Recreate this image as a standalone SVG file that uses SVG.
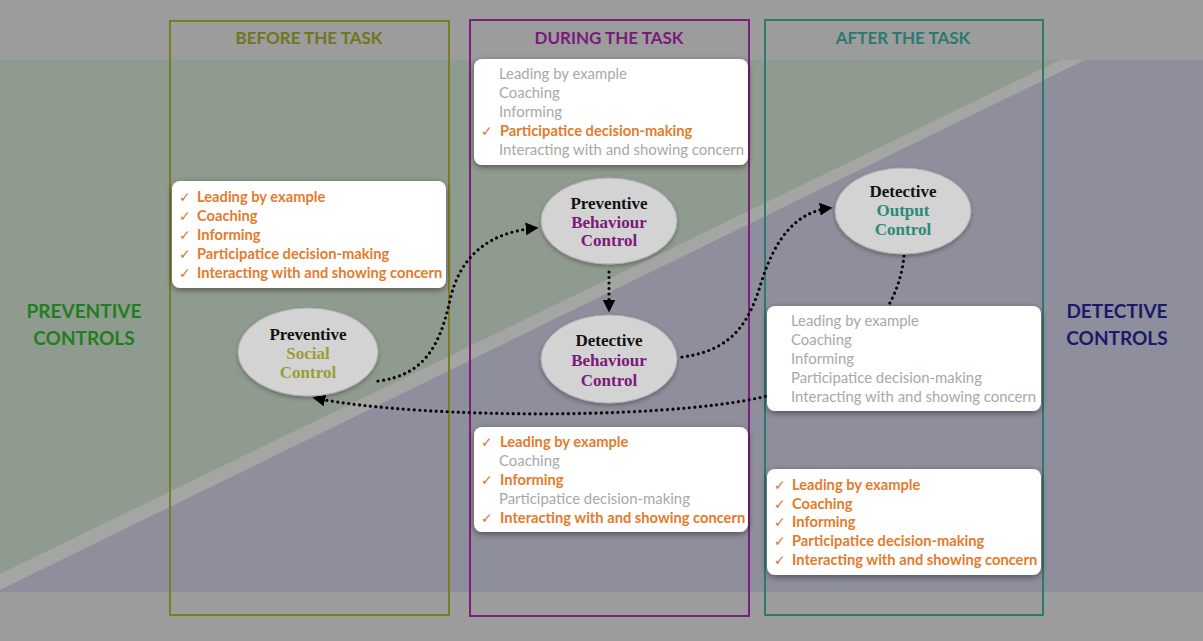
<svg xmlns="http://www.w3.org/2000/svg" width="1203" height="641" viewBox="0 0 1203 641">
<defs>
<style>
.hdr{font-family:Lato,"Open Sans",sans-serif;font-weight:bold;font-size:17px;text-anchor:middle}
.side{font-family:Lato,"Open Sans",sans-serif;font-weight:bold;font-size:19px;text-anchor:middle}
.li{font-family:Lato,"Open Sans",sans-serif;font-size:14.9px}
.on{fill:#e47b2b;font-weight:bold;font-size:14.7px}
.off{fill:#a8a8a8}
.ck{font-family:"DejaVu Sans",sans-serif;font-size:14px;fill:#d9772d}
.box{fill:#ffffff;filter:url(#sh)}
.ell{fill:#d3d3d3;stroke:#b0b0b0;stroke-width:1;filter:url(#sh2)}
.et{font-family:"Liberation Serif",serif;font-weight:bold;font-size:17px;text-anchor:middle}
.con{fill:none;stroke:#000;stroke-width:3.2;stroke-linecap:round;stroke-dasharray:0 5.5}
</style>
<filter id="sh" x="-10%" y="-20%" width="120%" height="150%">
<feDropShadow dx="0" dy="2" stdDeviation="3" flood-color="#000" flood-opacity="0.45"/>
</filter>
<filter id="sh2" x="-10%" y="-10%" width="120%" height="130%">
<feDropShadow dx="0" dy="2" stdDeviation="2" flood-color="#000" flood-opacity="0.3"/>
</filter>
<marker id="ah" viewBox="0 0 10 10" refX="8" refY="5" markerWidth="4" markerHeight="4" orient="auto" markerUnits="strokeWidth">
<path d="M0,0 L10,5 L0,10 z" fill="#000"/>
</marker>
</defs>

<g id="background">
<rect width="1203" height="641" fill="#9c9c9c"/>
<polygon points="0,60 1060,60 0,574" fill="#909b8f"/>
<polygon points="1060,60 1085,60 0,590 0,574" fill="#a4a6a4"/>
<polygon points="1085,60 1203,60 1203,592 0,592 0,590" fill="#8e8e9c"/>
</g>

<g id="columns" fill="none" stroke-width="2">
<rect x="170" y="21" width="279" height="594" stroke="#7c7c22"/>
<rect x="470" y="20" width="279" height="596" stroke="#7a1f7a"/>
<rect x="765" y="20" width="278" height="595" stroke="#2a7a70"/>
</g>

<g id="headers">
<text class="hdr" x="309" y="44" fill="#71741f">BEFORE THE TASK</text>
<text class="hdr" x="609" y="44" fill="#7a1a7a">DURING THE TASK</text>
<text class="hdr" x="903" y="44" fill="#2b7a70">AFTER THE TASK</text>
</g>

<g id="side-labels">
<text class="side" x="84" y="318" fill="#1f7f1f">PREVENTIVE</text>
<text class="side" x="84" y="345" fill="#1f7f1f">CONTROLS</text>
<text class="side" x="1117" y="318" fill="#1a1a6a">DETECTIVE</text>
<text class="side" x="1117" y="345" fill="#1a1a6a">CONTROLS</text>
</g>

<g id="connectors">
<path class="con" d="M378,381 C425,375 440,345 450,300 C460,255 490,232 536,228" marker-end="url(#ah)"/>
<path class="con" d="M609,272 L609,310" marker-end="url(#ah)"/>
<path class="con" d="M682,357 C735,350 750,320 762,280 C775,240 795,212 830,208" marker-end="url(#ah)"/>
<path class="con" d="M904,256 C900,300 870,355 780,392 C700,420 420,420 315,398" marker-end="url(#ah)"/>
</g>

<g id="list-before">
<rect class="box" x="172" y="181" width="274" height="107" rx="8"/>
<text class="ck" x="179" y="202">✓</text><text class="li on" x="197" y="202">Leading by example</text>
<text class="ck" x="179" y="221">✓</text><text class="li on" x="197" y="221">Coaching</text>
<text class="ck" x="179" y="240">✓</text><text class="li on" x="197" y="240">Informing</text>
<text class="ck" x="179" y="259">✓</text><text class="li on" x="197" y="259">Participatice decision-making</text>
<text class="ck" x="179" y="278">✓</text><text class="li on" x="197" y="278">Interacting with and showing concern</text>
</g>

<g id="list-during-top">
<rect class="box" x="474" y="59" width="274" height="106" rx="8"/>
<text class="li off" x="499" y="79">Leading by example</text>
<text class="li off" x="499" y="98">Coaching</text>
<text class="li off" x="499" y="117">Informing</text>
<text class="ck" x="481" y="136">✓</text><text class="li on" x="500" y="136">Participatice decision-making</text>
<text class="li off" x="499" y="155">Interacting with and showing concern</text>
</g>

<g id="list-during-bottom">
<rect class="box" x="474" y="427" width="274" height="105" rx="8"/>
<text class="ck" x="481" y="447">✓</text><text class="li on" x="500" y="447">Leading by example</text>
<text class="li off" x="499" y="466">Coaching</text>
<text class="ck" x="481" y="485">✓</text><text class="li on" x="500" y="485">Informing</text>
<text class="li off" x="499" y="504">Participatice decision-making</text>
<text class="ck" x="481" y="523">✓</text><text class="li on" x="500" y="523">Interacting with and showing concern</text>
</g>

<g id="list-after-mid">
<rect class="box" x="767" y="306" width="274" height="105" rx="8"/>
<text class="li off" x="791" y="326">Leading by example</text>
<text class="li off" x="791" y="345">Coaching</text>
<text class="li off" x="791" y="364">Informing</text>
<text class="li off" x="791" y="383">Participatice decision-making</text>
<text class="li off" x="791" y="402">Interacting with and showing concern</text>
</g>

<g id="list-after-bottom">
<rect class="box" x="767" y="469" width="274" height="106" rx="8"/>
<text class="ck" x="774" y="490">✓</text><text class="li on" x="792" y="490">Leading by example</text>
<text class="ck" x="774" y="509">✓</text><text class="li on" x="792" y="509">Coaching</text>
<text class="ck" x="774" y="527">✓</text><text class="li on" x="792" y="527">Informing</text>
<text class="ck" x="774" y="546">✓</text><text class="li on" x="792" y="546">Participatice decision-making</text>
<text class="ck" x="774" y="565">✓</text><text class="li on" x="792" y="565">Interacting with and showing concern</text>
</g>

<g id="node-preventive-social">
<ellipse class="ell" cx="308" cy="352" rx="70" ry="44"/>
<text class="et" x="308" y="340" fill="#111">Preventive</text>
<text class="et" x="308" y="359" fill="#9c9c36">Social</text>
<text class="et" x="308" y="378" fill="#9c9c36">Control</text>
</g>

<g id="node-preventive-behaviour">
<ellipse class="ell" cx="609" cy="221" rx="68" ry="43"/>
<text class="et" x="609" y="209" fill="#111">Preventive</text>
<text class="et" x="609" y="228" fill="#7a1a7a">Behaviour</text>
<text class="et" x="609" y="246" fill="#7a1a7a">Control</text>
</g>

<g id="node-detective-behaviour">
<ellipse class="ell" cx="609" cy="359" rx="68" ry="44"/>
<text class="et" x="609" y="346" fill="#111">Detective</text>
<text class="et" x="609" y="366" fill="#7a1a7a">Behaviour</text>
<text class="et" x="609" y="386" fill="#7a1a7a">Control</text>
</g>

<g id="node-detective-output">
<ellipse class="ell" cx="903" cy="211" rx="68" ry="43"/>
<text class="et" x="903" y="197" fill="#111">Detective</text>
<text class="et" x="903" y="216" fill="#2a8a7a">Output</text>
<text class="et" x="903" y="235" fill="#2a8a7a">Control</text>
</g>
</svg>
